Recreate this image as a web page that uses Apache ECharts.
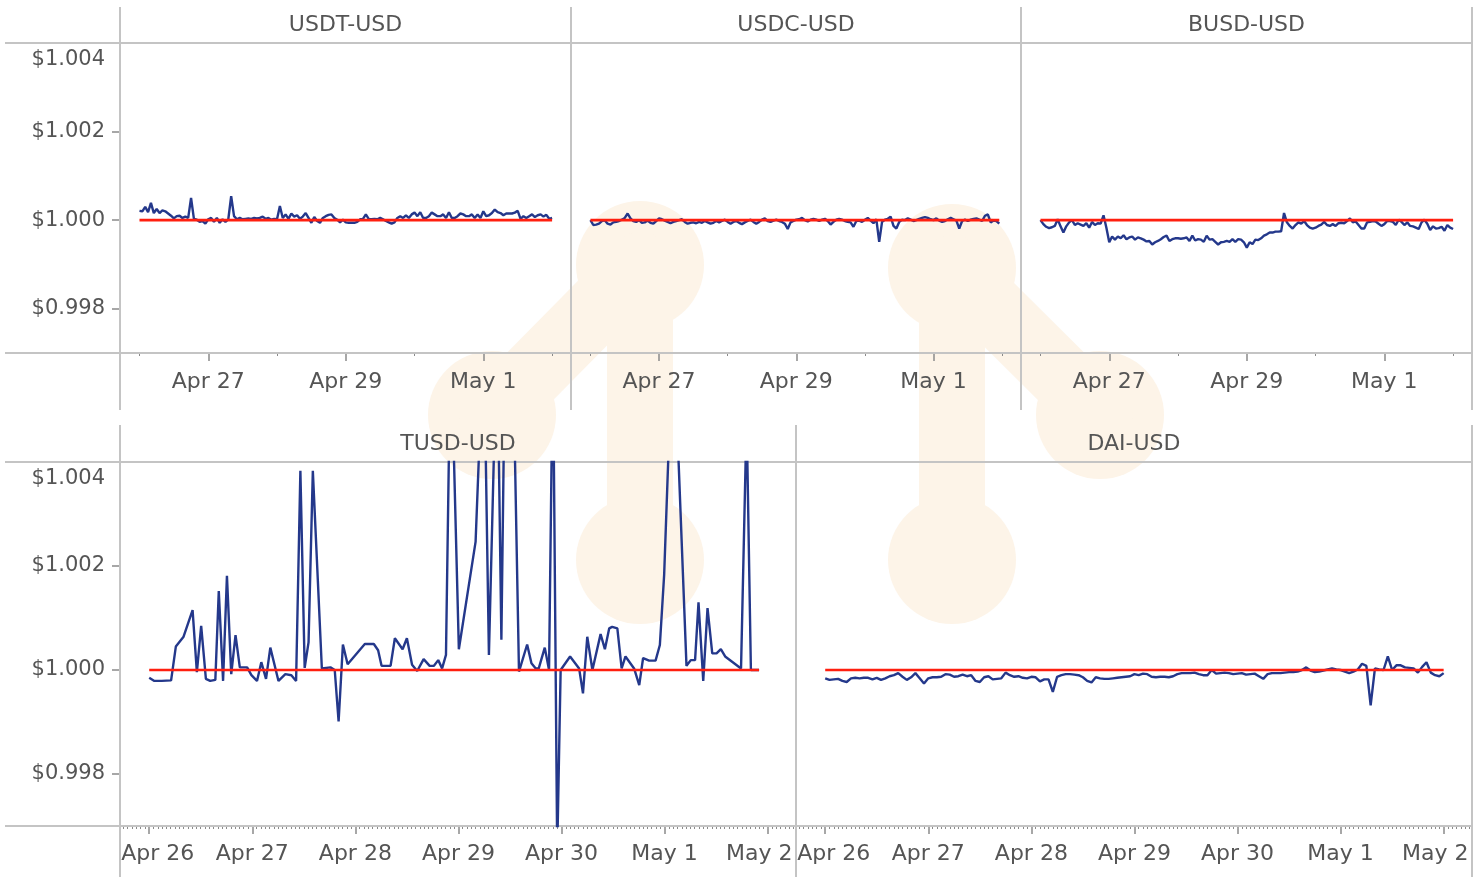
<!DOCTYPE html>
<html>
<head>
<meta charset="utf-8">
<title>Stablecoin prices vs USD</title>
<script src="https://cdn.jsdelivr.net/npm/echarts@6/dist/echarts.min.js"></script>
<style>
html, body { margin: 0; padding: 0; background: #fff; }
#chart { width: 1484px; height: 877px; }
</style>
</head>
<body>
<div id="chart"></div>
<script>
// hourly samples starting Apr 26 00:00 (index = hour)
var dayLabels = ['Apr 26', 'Apr 27', 'Apr 28', 'Apr 29', 'Apr 30', 'May 1', 'May 2'];
var pegPrice = 1.0;
var priceTicks = [0.998, 1.000, 1.002, 1.004];

var usdtPrices = [
  1.00021, 1.00020, 1.00030, 1.00018, 1.00039, 1.00016, 1.00025, 1.00016, 1.00022, 1.00020,
  1.00015, 1.00010, 1.00004, 1.00009, 1.00010, 1.00005, 1.00008, 1.00005, 1.00050, 1.00003,
  1.00001, 0.99996, 0.99998, 0.99992, 1.00002, 1.00005, 0.99996, 1.00005, 0.99994, 1.00002,
  0.99996, 1.00002, 1.00054, 1.00009, 1.00002, 1.00005, 1.00002, 1.00003, 1.00004, 1.00003,
  1.00005, 1.00004, 1.00005, 1.00008, 1.00003, 1.00005, 1.00001, 1.00003, 1.00002, 1.00032,
  1.00005, 1.00013, 1.00003, 1.00015, 1.00008, 1.00011, 1.00003, 1.00008, 1.00016, 1.00005,
  0.99994, 1.00007, 0.99998, 0.99994, 1.00005, 1.00009, 1.00012, 1.00013, 1.00005, 1.00001,
  0.99995, 1.00001, 0.99995, 0.99994, 0.99994, 0.99994, 0.99996, 1.00002, 1.00003, 1.00013,
  1.00003, 1.00002, 1.00003, 1.00002, 1.00005, 1.00002, 0.99998, 0.99995, 0.99992, 0.99995,
  1.00005, 1.00009, 1.00005, 1.00011, 1.00005, 1.00013, 1.00017, 1.00009, 1.00018, 1.00005,
  1.00005, 1.00009, 1.00017, 1.00013, 1.00009, 1.00009, 1.00013, 1.00005, 1.00018, 1.00005,
  1.00005, 1.00009, 1.00015, 1.00013, 1.00009, 1.00009, 1.00013, 1.00005, 1.00013, 1.00005,
  1.00020, 1.00009, 1.00011, 1.00016, 1.00024, 1.00018, 1.00016, 1.00011, 1.00015, 1.00015,
  1.00015, 1.00017, 1.00021, 1.00003, 1.00009, 1.00005, 1.00009, 1.00013, 1.00007, 1.00011,
  1.00013, 1.00008, 1.00012, 1.00003, 1.00005
];

var usdcPrices = [
  1.00000, 0.99989, 0.99990, 0.99992, 0.99998, 1.00000, 0.99992, 0.99990, 0.99995, 0.99996,
  0.99998, 1.00001, 1.00005, 1.00015, 1.00004, 0.99998, 0.99996, 1.00000, 0.99994, 0.99995,
  0.99999, 0.99994, 0.99992, 0.99998, 1.00004, 1.00002, 0.99999, 0.99996, 0.99993, 0.99996,
  0.99998, 1.00000, 1.00002, 0.99996, 0.99992, 0.99994, 0.99995, 0.99993, 0.99996, 0.99994,
  0.99998, 0.99995, 0.99992, 0.99994, 0.99998, 0.99995, 0.99998, 1.00001, 0.99996, 0.99992,
  0.99996, 0.99998, 0.99994, 0.99991, 0.99995, 0.99998, 1.00001, 0.99996, 0.99992, 0.99996,
  1.00001, 1.00004, 0.99998, 0.99996, 0.99999, 1.00001, 0.99998, 0.99996, 0.99992, 0.99980,
  0.99995, 0.99998, 1.00001, 1.00002, 1.00005, 1.00000, 0.99997, 1.00001, 1.00003, 1.00001,
  0.99998, 1.00001, 1.00003, 0.99998, 0.99990, 0.99996, 1.00001, 1.00003, 1.00001, 0.99998,
  0.99996, 0.99995, 0.99985, 0.99998, 0.99999, 0.99996, 1.00001, 1.00005, 0.99999, 0.99993,
  1.00002, 0.99951, 0.99996, 1.00001, 1.00003, 1.00008, 0.99987, 0.99981, 0.99996, 1.00001,
  1.00000, 1.00004, 1.00001, 0.99998, 1.00000, 1.00003, 1.00005, 1.00007, 1.00005, 1.00002,
  1.00000, 1.00004, 0.99999, 0.99996, 0.99998, 1.00002, 1.00005, 1.00002, 0.99999, 0.99981,
  0.99998, 1.00001, 0.99998, 1.00001, 1.00003, 1.00004, 1.00001, 0.99998, 1.00010, 1.00013,
  0.99995, 0.99999, 0.99998, 0.99992
];

var busdPrices = [
  1.00000, 0.99991, 0.99985, 0.99982, 0.99984, 0.99987, 1.00002, 0.99986, 0.99972, 0.99986,
  0.99995, 1.00000, 0.99989, 0.99993, 0.99990, 0.99987, 0.99993, 0.99983, 0.99996, 0.99989,
  0.99993, 0.99992, 1.00011, 0.99983, 0.99950, 0.99963, 0.99956, 0.99963, 0.99959, 0.99966,
  0.99957, 0.99961, 0.99963, 0.99956, 0.99961, 0.99959, 0.99956, 0.99952, 0.99953, 0.99945,
  0.99950, 0.99953, 0.99957, 0.99962, 0.99965, 0.99953, 0.99957, 0.99959, 0.99959, 0.99958,
  0.99959, 0.99961, 0.99953, 0.99965, 0.99954, 0.99957, 0.99956, 0.99951, 0.99965, 0.99956,
  0.99957, 0.99951, 0.99945, 0.99950, 0.99951, 0.99953, 0.99951, 0.99957, 0.99951, 0.99957,
  0.99956, 0.99950, 0.99938, 0.99950, 0.99946, 0.99956, 0.99955, 0.99959, 0.99965, 0.99968,
  0.99972, 0.99972, 0.99974, 0.99974, 0.99975, 1.00016, 0.99995, 0.99987, 0.99981, 0.99989,
  0.99995, 0.99992, 0.99998, 0.99989, 0.99983, 0.99981, 0.99983, 0.99987, 0.99990, 0.99996,
  0.99989, 0.99987, 0.99991, 0.99987, 0.99993, 0.99994, 0.99993, 0.99998, 1.00004, 0.99995,
  0.99997, 0.99989, 0.99981, 0.99981, 0.99995, 0.99996, 0.99998, 0.99997, 0.99992, 0.99987,
  0.99991, 0.99998, 0.99998, 0.99996, 0.99989, 1.00001, 0.99996, 0.99989, 0.99995, 0.99987,
  0.99986, 0.99983, 0.99980, 0.99995, 1.00001, 0.99992, 0.99978, 0.99986, 0.99981, 0.99982,
  0.99985, 0.99976, 0.99989, 0.99983, 0.99980
];

// TUSD trades irregularly: hours since Apr 26 00:00 and price at each trade
var tusdHours = [
  0, 1.2, 2.9, 5.1, 6.2, 8.0, 10.1, 11.1, 12.1, 13.2,
  14.2, 15.4, 16.2, 17.2, 18.1, 19.1, 20.1, 21.1, 22.8, 23.8,
  25.1, 26.1, 27.2, 28.2, 30.1, 31.7, 33.1, 34.2, 35.2, 36.2,
  37.1, 38.1, 40.2, 42.2, 43.2, 44.1, 45.1, 46.2, 50.2, 52.3,
  53.3, 54.1, 56.2, 57.2, 59.0, 60.0, 61.2, 62.4, 63.9, 65.3,
  66.3, 67.3, 68.2, 69.1, 70.2, 72.1, 76.0, 77.9, 79.1, 81.0,
  82.0, 83.0, 84.5, 86.1, 88.0, 89.0, 90.0, 90.7, 92.1, 93.1,
  94.0, 95.0, 95.8, 98.0, 100.1, 101.0, 102.0, 103.2, 105.1, 106.1,
  107.1, 107.8, 109.0, 110.0, 110.9, 112.9, 114.1, 115.0, 116.4, 117.9,
  118.9, 119.9, 122.0, 125.1, 126.1, 127.1, 127.9, 129.0, 130.0, 131.1,
  132.1, 133.1, 134.1, 137.8, 139.1, 140.1, 142.0
];
var tusdPrices = [
  0.99985, 0.99979, 0.99979, 0.99980, 1.00045, 1.00064, 1.00115, 0.99996, 1.00085, 0.99983,
  0.99979, 0.99981, 1.00152, 0.99979, 1.00181, 0.99992, 1.00067, 1.00005, 1.00005, 0.99990,
  0.99979, 1.00015, 0.99983, 1.00043, 0.99979, 0.99992, 0.99990, 0.99979, 1.00383, 1.00004,
  1.00053, 1.00383, 1.00003, 1.00005, 1.00000, 0.99901, 1.00049, 1.00011, 1.00050, 1.00050,
  1.00038, 1.00008, 1.00008, 1.00061, 1.00040, 1.00061, 1.00010, 0.99998, 1.00021, 1.00008,
  1.00008, 1.00019, 1.00003, 1.00029, 1.00650, 1.00040, 1.00247, 1.00652, 1.00029, 1.00660,
  1.00058, 1.00720, 1.00700, 0.99997, 1.00049, 1.00013, 1.00003, 1.00003, 1.00043, 1.00000,
  1.00620, 0.99650, 1.00000, 1.00026, 1.00003, 0.99955, 1.00064, 1.00000, 1.00069, 1.00040,
  1.00080, 1.00083, 1.00080, 1.00003, 1.00026, 1.00003, 0.99971, 1.00023, 1.00018, 1.00018,
  1.00048, 1.00183, 1.00670, 1.00008, 1.00019, 1.00019, 1.00130, 0.99979, 1.00119, 1.00032,
  1.00032, 1.00040, 1.00026, 1.00003, 1.00487, 1.00000, 1.00000
];

var daiPrices = [
  0.99984, 0.99981, 0.99982, 0.99983, 0.99979, 0.99977, 0.99984, 0.99985, 0.99984, 0.99985,
  0.99985, 0.99982, 0.99985, 0.99981, 0.99984, 0.99988, 0.99990, 0.99994, 0.99987, 0.99981,
  0.99986, 0.99994, 0.99984, 0.99974, 0.99984, 0.99986, 0.99986, 0.99987, 0.99992, 0.99991,
  0.99987, 0.99988, 0.99991, 0.99988, 0.99990, 0.99979, 0.99977, 0.99986, 0.99988, 0.99982,
  0.99983, 0.99984, 0.99995, 0.99990, 0.99987, 0.99988, 0.99985, 0.99984, 0.99987, 0.99986,
  0.99978, 0.99982, 0.99982, 0.99958, 0.99987, 0.99990, 0.99992, 0.99992, 0.99991, 0.99990,
  0.99986, 0.99979, 0.99976, 0.99986, 0.99984, 0.99983, 0.99983, 0.99984, 0.99985, 0.99986,
  0.99987, 0.99988, 0.99992, 0.99990, 0.99993, 0.99992, 0.99987, 0.99986, 0.99987, 0.99987,
  0.99986, 0.99988, 0.99992, 0.99994, 0.99994, 0.99994, 0.99995, 0.99992, 0.99990, 0.99990,
  1.00000, 0.99993, 0.99994, 0.99995, 0.99994, 0.99992, 0.99993, 0.99994, 0.99991, 0.99992,
  0.99993, 0.99988, 0.99983, 0.99992, 0.99994, 0.99994, 0.99994, 0.99995, 0.99996, 0.99996,
  0.99997, 1.00000, 1.00005, 0.99999, 0.99996, 0.99997, 0.99999, 1.00001, 1.00003, 1.00001,
  1.00000, 0.99997, 0.99994, 0.99997, 1.00001, 1.00012, 1.00008, 0.99932, 1.00003, 1.00001,
  1.00000, 1.00026, 1.00000, 1.00009, 1.00009, 1.00005, 1.00004, 1.00003, 0.99995, 1.00006,
  1.00015, 0.99995, 0.99990, 0.99988, 0.99994
];

// ---- layout (pixels) ----
var fontFamily = '"DejaVu Sans", Verdana, sans-serif';
var textColor = '#555';
var frameColor = '#c4c4c4';
var tickColor = '#8a8a8a';
var xMin = -6.8, xMax = 150.6;

function hourly(prices) {
  return prices.map(function (p, i) { return [i, p]; });
}
function paired(hours, prices) {
  return hours.map(function (h, i) { return [h, prices[i]]; });
}

var panels = [
  { name: 'USDT-USD', data: hourly(usdtPrices), left: 120, top: 43, width: 451, height: 310, row: 0, yLabels: true },
  { name: 'USDC-USD', data: hourly(usdcPrices), left: 571, top: 43, width: 450, height: 310, row: 0, yLabels: false },
  { name: 'BUSD-USD', data: hourly(busdPrices), left: 1021, top: 43, width: 451, height: 310, row: 0, yLabels: false },
  { name: 'TUSD-USD', data: paired(tusdHours, tusdPrices), left: 120, top: 462, width: 676, height: 364, row: 1, yLabels: true },
  { name: 'DAI-USD', data: hourly(daiPrices), left: 796, top: 462, width: 676, height: 364, row: 1, yLabels: false }
];

// tick hours for each row
var rowMajor = [[24, 72, 120], [0, 24, 48, 72, 96, 120, 144]];
var rowMinor = [[0, 48, 96, 144], []];
for (var h = -6; h <= 150; h++) {
  if (h % 24 !== 0) rowMinor[1].push(h);
}

function dayLabel(v) {
  var s = dayLabels[Math.round(v / 24)] || '';
  if (v < 1) return '{first|' + s + '}';
  if (v > 143) return '{last|' + s + '}';
  return s;
}
function priceLabel(v) {
  var s = '$' + v.toFixed(3);
  return v > 1.0035 ? '{top|' + s + '}' : s;
}

var grids = [], xAxes = [], yAxes = [], series = [], titles = [];
panels.forEach(function (p, i) {
  grids.push({ left: p.left, top: p.top, width: p.width, height: p.height, containLabel: false });
  var xText = { fontSize: 22, color: textColor, fontFamily: fontFamily };
  var yText = { fontSize: 21, color: textColor, fontFamily: fontFamily };
  xAxes.push({
    type: 'value', gridIndex: i, min: xMin, max: xMax, position: 'bottom',
    axisLine: { show: false, onZero: false }, splitLine: { show: false },
    axisTick: { show: true, length: 8, customValues: rowMajor[p.row], lineStyle: { color: tickColor, width: 1.5 } },
    axisLabel: Object.assign({
      show: true, margin: p.row === 0 ? 18 : 17, customValues: rowMajor[p.row], formatter: dayLabel,
      rich: {
        first: Object.assign({ padding: [0, 0, 0, 17] }, xText),
        last: Object.assign({ padding: [0, 17, 0, 0] }, xText)
      }
    }, xText)
  });
  xAxes.push({
    type: 'value', gridIndex: i, min: xMin, max: xMax, position: 'bottom',
    axisLine: { show: false, onZero: false }, splitLine: { show: false }, axisLabel: { show: false },
    axisTick: { show: true, length: 3, customValues: rowMinor[p.row], lineStyle: { color: tickColor, width: 1 } }
  });
  yAxes.push({
    type: 'value', gridIndex: i, min: 0.997, max: 1.004,
    axisLine: { show: false, onZero: false }, splitLine: { show: false },
    axisTick: { show: p.yLabels, length: 8, customValues: priceTicks, lineStyle: { color: tickColor, width: 1.5 } },
    axisLabel: Object.assign({
      show: p.yLabels, margin: 15, customValues: priceTicks, formatter: priceLabel,
      rich: { top: Object.assign({ padding: [34, 0, 0, 0] }, yText) }
    }, yText)
  });
  series.push({
    name: p.name, type: 'line', xAxisIndex: 2 * i, yAxisIndex: i,
    data: p.data, showSymbol: false, clip: true, z: 3,
    lineStyle: { color: '#24388b', width: 2.4 }
  });
  var first = p.data[0][0], last = p.data[p.data.length - 1][0];
  series.push({
    name: p.name + ' peg', type: 'line', xAxisIndex: 2 * i, yAxisIndex: i,
    data: [[first, pegPrice], [last, pegPrice]], showSymbol: false, z: 4,
    lineStyle: { color: '#ff1f0f', width: 2.6 }
  });
  titles.push({
    text: p.name, left: p.left + p.width / 2, top: p.row === 0 ? 14 : 433,
    textAlign: 'center', padding: 0,
    textStyle: { fontSize: 22, fontWeight: 'normal', color: textColor, fontFamily: fontFamily }
  });
});

// panel frame lines
var frame = [];
function hline(y) { frame.push({ type: 'line', z: 1, shape: { x1: 5, y1: y, x2: 1473, y2: y }, style: { stroke: frameColor, lineWidth: 2 } }); }
function vline(x, y1, y2) { frame.push({ type: 'line', z: 1, shape: { x1: x, y1: y1, x2: x, y2: y2 }, style: { stroke: frameColor, lineWidth: 2 } }); }
hline(43); hline(353); hline(462); hline(826);
[120, 571, 1021, 1472].forEach(function (x) { vline(x, 7, 410); });
[120, 796, 1472].forEach(function (x) { vline(x, 425, 877); });

// faint watermark logo behind the panels
var wmColor = '#fdf4e8';
var wm = [];
function node(x, y) { wm.push({ type: 'circle', z: -10, shape: { cx: x, cy: y, r: 64 }, style: { fill: wmColor } }); }
function link(x1, y1, x2, y2) { wm.push({ type: 'line', z: -10, shape: { x1: x1, y1: y1, x2: x2, y2: y2 }, style: { stroke: wmColor, lineWidth: 66, lineCap: 'round' } }); }
node(640, 265); node(952, 268); node(640, 560); node(952, 560); node(492, 415); node(1100, 415);
link(640, 265, 492, 415); link(952, 268, 1100, 415);
link(640, 265, 640, 560); link(952, 268, 952, 560);

var chart = echarts.init(document.getElementById('chart'), null, { renderer: 'canvas' });
chart.setOption({
  animation: false,
  backgroundColor: '#fff',
  title: titles,
  grid: grids,
  xAxis: xAxes,
  yAxis: yAxes,
  series: series,
  graphic: wm.concat(frame)
});
</script>
</body>
</html>
